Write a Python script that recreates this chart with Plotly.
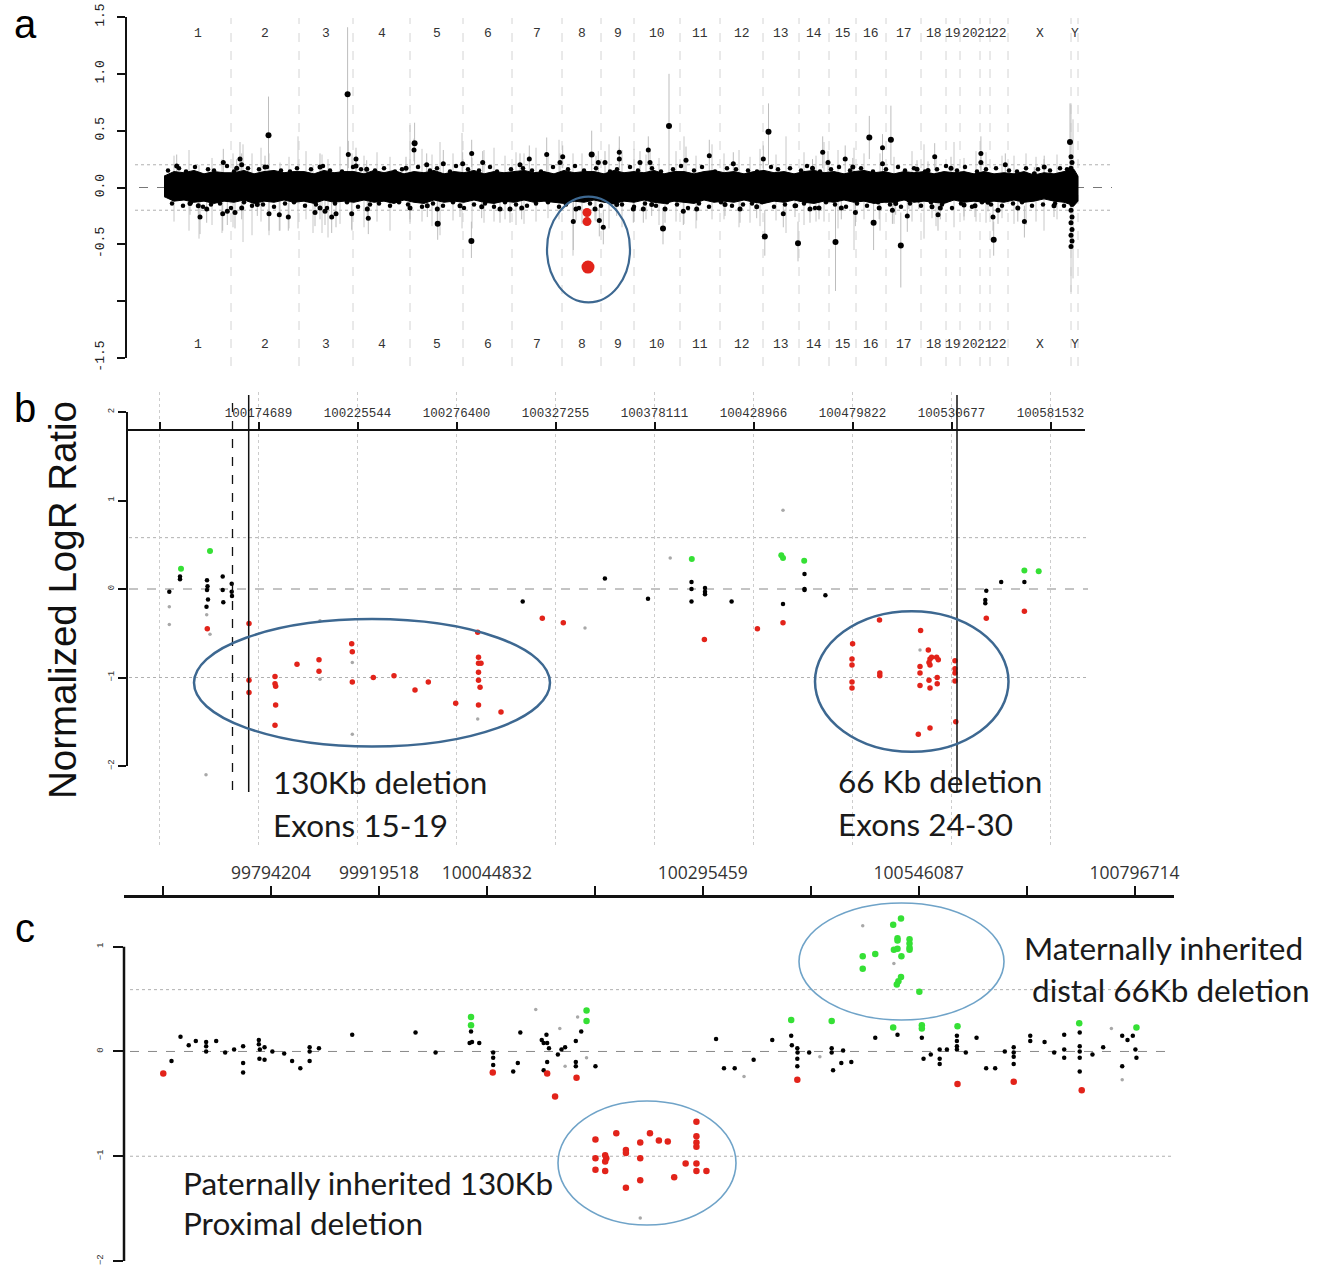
import plotly.graph_objects as go

W, H = 1328, 1270
def fx(p): return p / W
def fy(p): return 1 - p / H

MONO = "Liberation Mono"
SANS = "Liberation Sans"
TXT = "Lato"
RED = "#e2231a"
GREEN = "#35e035"
GRAY = "#a8a8a8"

# ================= Panel a : genome-wide =================
chrom_names = ['1','2','3','4','5','6','7','8','9','10','11','12','13','14','15','16',
               '17','18','19','20','21','22','X','Y']
chrom_sizes = [67, 68, 54, 57, 53, 49, 50, 39, 33, 46, 40, 43, 36, 30, 27, 30, 35, 25,
               14, 20, 10, 18, 63, 7]

band_pos = list(range(0, 911, 10)) + [914]
band_hi = [0.10, 0.14, 0.13, 0.15, 0.12, 0.14, 0.13,
           0.13, 0.15, 0.12, 0.14, 0.15, 0.13, 0.14,
           0.14, 0.12, 0.15, 0.13, 0.14,
           0.14, 0.12, 0.15, 0.13, 0.15, 0.12,
           0.14, 0.13, 0.15, 0.12, 0.14,
           0.13, 0.15, 0.12, 0.14, 0.13,
           0.14, 0.15, 0.13, 0.14, 0.12,
           0.15, 0.13, 0.14, 0.14,
           0.12, 0.15, 0.13,
           0.14, 0.13, 0.15, 0.12, 0.14,
           0.14, 0.12, 0.14, 0.15,
           0.13, 0.14, 0.12, 0.14,
           0.15, 0.13, 0.14, 0.12,
           0.14, 0.15, 0.13,
           0.14, 0.12, 0.14,
           0.15, 0.13, 0.14,
           0.12, 0.14, 0.13,
           0.14, 0.12, 0.14,
           0.13, 0.14, 0.12,
           0.14, 0.12, 0.13,
           0.12, 0.14, 0.11, 0.13, 0.12, 0.14,
           0.16, 0.10]
band_lo = [-0.08, -0.12, -0.11, -0.13, -0.12, -0.14, -0.12,
           -0.13, -0.11, -0.14, -0.12, -0.13, -0.11, -0.13,
           -0.12, -0.14, -0.11, -0.13, -0.12,
           -0.13, -0.11, -0.13, -0.12, -0.14, -0.11,
           -0.13, -0.14, -0.11, -0.13, -0.12,
           -0.13, -0.11, -0.13, -0.14, -0.12,
           -0.13, -0.11, -0.13, -0.12, -0.13,
           -0.14, -0.12, -0.13, -0.11,
           -0.13, -0.14, -0.12,
           -0.13, -0.11, -0.13, -0.14, -0.12,
           -0.13, -0.14, -0.11, -0.13,
           -0.12, -0.13, -0.11, -0.13,
           -0.14, -0.12, -0.13, -0.11,
           -0.13, -0.14, -0.12,
           -0.13, -0.11, -0.13,
           -0.12, -0.14, -0.13,
           -0.13, -0.11, -0.13,
           -0.12, -0.13, -0.14,
           -0.11, -0.13, -0.12,
           -0.13, -0.12, -0.13,
           -0.11, -0.13, -0.12, -0.10, -0.12, -0.13,
           -0.16, -0.12]

# ragged edge of the dense probe band
fr_top_pos = [4, 15, 22, 31, 44, 50, 63, 70, 84, 95, 103, 117, 126, 133, 147, 159, 166, 178,
              189, 197, 211, 220, 231, 238, 254, 266, 273, 286, 292, 304, 315, 326, 333, 347,
              359, 368, 377, 389, 404, 411, 420, 432, 446, 453, 466, 474, 488, 497, 509, 517,
              530, 538, 551, 563, 572, 584, 593, 607, 614, 626, 637, 643, 656, 667, 675, 686,
              697, 709, 722, 734, 741, 750, 761, 773, 782, 793, 801, 813, 822, 832, 845, 853,
              862, 874, 886, 896, 903]
fr_top_val = [0.15, 0.17, 0.14, 0.18, 0.16, 0.15, 0.19, 0.14, 0.17, 0.16,
              0.18, 0.15, 0.14, 0.17, 0.16, 0.19, 0.15, 0.14, 0.18, 0.16,
              0.15, 0.17, 0.14, 0.16, 0.18, 0.15, 0.17, 0.14, 0.19, 0.16,
              0.15, 0.18, 0.14, 0.16, 0.17, 0.15, 0.14, 0.18, 0.16, 0.19,
              0.15, 0.17, 0.14, 0.16, 0.18, 0.15, 0.17, 0.14, 0.16, 0.19,
              0.15, 0.18, 0.14, 0.17, 0.16, 0.15, 0.14, 0.18, 0.16, 0.17,
              0.15, 0.19, 0.14, 0.16, 0.18, 0.15, 0.17, 0.14, 0.16, 0.18,
              0.15, 0.17, 0.14, 0.16, 0.19, 0.15, 0.18, 0.14, 0.16, 0.17,
              0.15, 0.14, 0.17, 0.16, 0.15, 0.17, 0.16]
fr_bot_pos = [8, 19, 27, 39, 47, 56, 67, 80, 88, 99, 110, 121, 130, 141, 152, 163, 171, 183,
              194, 206, 215, 226, 235, 244, 258, 269, 279, 289, 300, 310, 321, 330, 341, 352,
              363, 372, 384, 395, 402, 415, 426, 437, 449, 458, 470, 481, 492, 503, 513, 524,
              535, 545, 557, 568, 579, 588, 598, 610, 621, 632, 640, 651, 662, 671, 682, 693,
              703, 714, 726, 737, 746, 757, 767, 778, 788, 797, 808, 818, 827, 838, 849, 858,
              868, 879, 891, 900]
fr_bot_val = [-0.14, -0.16, -0.13, -0.17, -0.15, -0.14, -0.18, -0.13, -0.16, -0.15,
              -0.17, -0.14, -0.13, -0.16, -0.15, -0.18, -0.14, -0.13, -0.17, -0.15,
              -0.14, -0.16, -0.13, -0.15, -0.17, -0.14, -0.16, -0.13, -0.18, -0.15,
              -0.14, -0.17, -0.13, -0.15, -0.16, -0.14, -0.13, -0.17, -0.15, -0.18,
              -0.14, -0.16, -0.13, -0.15, -0.17, -0.14, -0.16, -0.13, -0.15, -0.18,
              -0.14, -0.17, -0.13, -0.16, -0.15, -0.14, -0.13, -0.17, -0.15, -0.16,
              -0.14, -0.18, -0.13, -0.15, -0.17, -0.14, -0.16, -0.13, -0.15, -0.17,
              -0.14, -0.16, -0.13, -0.15, -0.18, -0.14, -0.17, -0.13, -0.15, -0.16,
              -0.14, -0.13, -0.16, -0.15, -0.14, -0.16]

a_spk_pos = [12.7, 59.3, 76, 77.7, 72.7, 101, 156, 184.3, 192, 192, 202.7, 242, 250, 262.7,
             279.3, 298.7, 307.7, 318.7, 356, 365.3, 382.7, 398.7, 396, 434.3, 441, 455.3,
             455.3, 476, 484.3, 486, 522, 545.3, 569.3, 599.3, 658.7, 648.5, 664, 681.2,
             688.8, 718.5, 718.5, 753, 764, 770.7, 787, 816.9, 816.9, 841.3, 870.3, 880.2,
             26, 34.3, 36, 42.7, 58.7, 63.3, 71, 77.7, 93.3, 105, 115.3, 124.3, 151, 156,
             161, 167.7, 172, 187.7, 203.3, 204.3, 246, 263.3, 273.3, 296, 317.7, 336, 346,
             357.7, 409.3, 412, 435.3, 439.3, 431, 452.7, 469.3, 479.3, 487.7, 501, 519.3,
             532.7, 561, 576, 592.7, 619.3, 631, 646, 655, 677.3, 691.4, 715.2, 731.7,
             728.4, 743.3, 744.9, 754.8, 768, 774, 776.3, 800, 811, 824, 829, 834, 853.8,
             860.4, 890,
             907, 908, 907, 908, 907, 908, 907, 908, 907, 908, 907]
a_spk_val = [0.19, 0.22, 0.25, 0.20, 0.17, 0.18, 0.18, 0.29, 0.25, 0.19, 0.16, 0.17, 0.33, 0.20,
             0.21, 0.21, 0.30, 0.22, 0.20, 0.25, 0.29, 0.27, 0.22, 0.22, 0.22, 0.31,
             0.25, 0.22, 0.33, 0.22, 0.24, 0.28, 0.21, 0.25, 0.31, 0.17, 0.22, 0.25,
             0.18, 0.35, 0.21, 0.16, 0.15, 0.27, 0.17, 0.30, 0.22, 0.20, 0.12, 0.18,
             -0.14, -0.16, -0.26, -0.19, -0.23, -0.21, -0.22, -0.18, -0.15, -0.23, -0.24, -0.26,
             -0.22, -0.18, -0.21, -0.26, -0.23, -0.23, -0.19, -0.27, -0.18, -0.16, -0.19, -0.16,
             -0.17, -0.19, -0.19, -0.18, -0.30, -0.19, -0.29, -0.35, -0.19, -0.15, -0.19, -0.19,
             -0.15, -0.19, -0.21, -0.19, -0.15, -0.19, -0.17, -0.23, -0.16, -0.19, -0.18,
             -0.18, -0.22, -0.18, -0.14, -0.20, -0.25, -0.11, -0.11, -0.17, -0.24, -0.18,
             -0.155, -0.16, -0.13, -0.26, -0.20, -0.18, -0.30, -0.16,
             0.27, 0.22, 0.17, -0.15, -0.20, -0.26, -0.31, -0.37, -0.42, -0.47, -0.52]
a_spk_err = [0.10, 0.12, 0.15, 0.10, 0.08, 0.10, 0.12, 0.12, 0.10, 0.08, 0.08, 0.10, 0.10, 0.10,
             0.12, 0.10, 0.12, 0.10, 0.10, 0.12, 0.15, 0.10, 0.08, 0.10, 0.10, 0.14,
             0.10, 0.10, 0.12, 0.10, 0.12, 0.14, 0.10, 0.12, 0.14, 0.08, 0.10, 0.12,
             0.08, 0.12, 0.10, 0.08, 0.08, 0.12, 0.10, 0.15, 0.10, 0.10, 0.06, 0.10,
             0.10, 0.12, 0.15, 0.12, 0.15, 0.12, 0.14, 0.10, 0.10, 0.15, 0.14, 0.12,
             0.12, 0.10, 0.12, 0.14, 0.12, 0.14, 0.10, 0.14, 0.10, 0.10, 0.10, 0.10,
             0.10, 0.12, 0.12, 0.10, 0.25, 0.10, 0.14, 0.15, 0.10, 0.10, 0.12, 0.12,
             0.10, 0.12, 0.12, 0.10, 0.10, 0.12, 0.10, 0.12, 0.10, 0.12, 0.10,
             0.10, 0.12, 0.10, 0.10, 0.12, 0.14, 0.08, 0.08, 0.10, 0.14, 0.10,
             0.10, 0.10, 0.08, 0.12, 0.12, 0.12, 0.14, 0.10,
             0, 0, 0, 0, 0, 0, 0, 0, 0, 0, 0]

a_out_pos = [104.5, 183.6, 250.6, 273.7, 307.4, 505, 499, 604.5, 600.8, 634, 671.5, 705.3,
             726.9, 736.8, 709.6, 829.7, 906, 427.7]
a_out_val = [0.46, 0.82, 0.39, -0.32, -0.47, 0.54, -0.36, 0.49, -0.43, -0.49, -0.48, 0.44,
             0.42, -0.51, -0.31, -0.46, 0.40, 0.29]
a_out_lo = [0.19, 0.10, 0.20, -0.46, -0.62, 0.05, -0.50, 0.20, -0.60, -0.65, -0.91, 0.25,
            0.20, -0.88, -0.55, -0.60, 0.10, 0.05]
a_out_hi = [0.80, 1.41, 0.57, -0.02, -0.30, 1.00, -0.20, 0.74, -0.20, -0.30, -0.10, 0.63,
            0.72, -0.22, -0.10, -0.30, 0.74, 0.50]

a_haze_pos = [35, 58, 69, 79, 105, 116, 134, 149, 164, 188, 246, 276, 298, 330, 360, 395, 409,
              445, 470, 520, 548, 575, 622, 660, 690, 716, 760, 790, 812, 850, 880, 907, 909,
              10, 25, 48, 88, 97, 125, 142, 158, 176, 200, 213, 226, 258, 268, 289, 308, 320,
              341, 352, 372, 384, 418, 432, 458, 482, 495, 512, 532, 560, 586, 596, 612, 640,
              652, 674, 700, 730, 748, 772, 800, 822, 838, 862, 872, 893]
a_haze_lo = [-0.45, -0.40, -0.35, -0.48, -0.42, -0.38, -0.36, -0.40, -0.44, -0.38, -0.32, -0.42,
             -0.36, -0.30, -0.32, -0.28, -0.60, -0.36, -0.30, -0.32, -0.28, -0.35, -0.40,
             -0.30, -0.55, -0.38, -0.45, -0.35, -0.30, -0.32, -0.38, -0.92, -0.80,
             -0.30, -0.38, -0.33, -0.42, -0.30, -0.36, -0.28, -0.40, -0.32, -0.35,
             -0.30, -0.38, -0.30, -0.34, -0.29, -0.36, -0.31, -0.28, -0.33, -0.30,
             -0.27, -0.32, -0.30, -0.35, -0.28, -0.33, -0.30, -0.36, -0.28, -0.31,
             -0.34, -0.29, -0.33, -0.30, -0.36, -0.28, -0.32, -0.30, -0.34, -0.29,
             -0.31, -0.27, -0.33, -0.30, -0.28]
a_haze_hi = [0.20, 0.25, 0.30, 0.38, 0.30, 0.22, 0.45, 0.20, 0.25, 0.30, 0.55, 0.40, 0.48,
             0.35, 0.30, 0.42, 0.30, 0.38, 0.34, 0.45, 0.38, 0.33, 0.45, 0.40, 0.35, 0.30,
             0.38, 0.40, 0.32, 0.28, 0.25, 0.74, 0.60,
             0.28, 0.33, 0.26, 0.30, 0.35, 0.27, 0.32, 0.29, 0.36, 0.28,
             0.31, 0.27, 0.34, 0.29, 0.30, 0.26, 0.33, 0.28, 0.31, 0.35,
             0.27, 0.30, 0.28, 0.33, 0.29, 0.26, 0.32, 0.28, 0.30, 0.27,
             0.34, 0.29, 0.31, 0.28, 0.33, 0.30, 0.27, 0.32, 0.29, 0.26,
             0.31, 0.28, 0.30, 0.27, 0.29]

a_red_pos = [423, 423, 424]
a_red_val = [-0.22, -0.30, -0.70]
a_red_size = [9, 9, 13]
a_yticks = [-1.5, -1.0, -0.5, 0.0, 0.5, 1.0, 1.5]
a_yticktext = ['-1.5', '', '-0.5', '0.0', '0.5', '1.0', '1.5']

# ================= Panel b : zoom, chr8 region =================
b_ticks = [100123834, 100174689, 100225544, 100276400, 100327255, 100378111, 100428966,
           100479822, 100530677, 100581532]
b_ticktext = [''] + [str(v) for v in b_ticks[1:]]
b_range = [100107139, 100599254]
b_breaks_dashed = [100161333]
b_breaks_solid = [100169655, 100533501]

b_black_pos = [100128868, 100134364, 100134364, 100148234, 100148500, 100148234, 100148748,
               100147977, 100156299, 100156299, 100156607, 100160922, 100160922, 100161075,
               100310406, 100352631, 100374771, 100397117, 100397117, 100397117, 100404052,
               100404052, 100404052, 100417716, 100444119, 100455164, 100455164, 100455164,
               100465900, 100548548, 100548035, 100548035, 100556202, 100568120]
b_black_val = [-0.03, 0.14, 0.11, 0.10, 0.03, -0.01, -0.12,
               -0.20, 0.14, -0.01, -0.15, 0.06, -0.03, -0.08,
               -0.14, 0.12, -0.11, 0.08, 0.00, -0.14, 0.01,
               -0.03, -0.06, -0.14, -0.17, 0.17, 0.00, -0.01,
               -0.07, -0.02, -0.125, -0.16, 0.08, 0.08]
b_green_pos = [100134878, 100149775, 100397271, 100443246, 100444119, 100455010, 100568120,
               100575470]
b_green_val = [0.23, 0.43, 0.34, 0.38, 0.35, 0.32, 0.21, 0.20]
b_gray_pos = [100128868, 100128868, 100148080, 100149775, 100147720, 100206281, 100206281,
              100222873, 100222873, 100287290, 100342409, 100386175, 100444119, 100514495]
b_gray_val = [-0.20, -0.40, -0.29, -0.51, -2.10, -0.36, -1.02, -0.83, -1.64, -1.47, -0.44,
              0.35, 0.89, -0.69]
b_red_pos = [100148388, 100169809, 100169809, 100169809, 100183165, 100183165, 100183500,
             100183500, 100183165, 100194466, 100205767, 100205767, 100222565, 100222873,
             100222873, 100233661, 100244294, 100255081, 100261914, 100275989, 100287290,
             100287701, 100287701, 100288985, 100287701, 100287701, 100288500, 100287701,
             100299259, 100320474, 100331262, 100403744, 100430969, 100444119,
             100479872, 100479564, 100479564, 100479564, 100479564, 100493690, 100493844,
             100493844, 100514803, 100518759, 100514495, 100514495, 100514495, 100519119,
             100519632, 100520454, 100523022, 100523895, 100519632, 100519119, 100519632,
             100523333, 100523333, 100532474, 100532474, 100532474, 100532474, 100532885,
             100513621, 100519632, 100548548, 100568120]
b_red_val = [-0.45, -0.39, -1.03, -1.17, -0.99, -1.07, -1.10,
             -1.31, -1.54, -0.85, -0.80, -0.93, -0.62, -0.71,
             -1.05, -1.00, -0.98, -1.14, -1.05, -1.29, -0.49,
             -0.77, -0.84, -0.84, -0.94, -1.03, -1.11, -1.31,
             -1.39, -0.33, -0.38, -0.57, -0.45, -0.38,
             -0.62, -0.79, -0.86, -1.05, -1.12, -0.35, -0.95,
             -0.98, -0.47, -0.69, -0.875, -0.95, -1.09, -0.83,
             -0.79, -0.77, -0.77, -0.80, -0.86, -1.03, -1.12,
             -1.00, -1.07, -0.81, -0.90, -0.95, -1.04, -1.50,
             -1.64, -1.57, -0.33, -0.25]
b_ellipses = [(100141556, 100324430, -1.78, -0.34), (100460558, 100559957, -1.84, -0.25)]
b_yticks = [-2, -1, 0, 1, 2]

# ================= Panel c : family =================
c_ticks = [99668890, 99794204, 99919518, 100044832, 100170145, 100295459, 100420773,
           100546087, 100671400, 100796714]
c_ticktext = ['', '99794204', '99919518', '100044832', '', '100295459', '',
              '100546087', '', '100796714']
c_range = [99623592, 100842536]
c_yticks = [-2, -1, 0, 1]

c_black_pos = [99678718, 99689185, 99698722, 99706979, 99718958, 99718958, 99718958, 99730588,
               99741055, 99751406, 99761873, 99761873, 99761873, 99780132, 99780132, 99781300,
               99780800, 99786761, 99786761, 99795832, 99809556, 99818743, 99828280, 99839096,
               99839096, 99839096, 99849912, 99888523, 99962025, 99985285, 100026455,
               100024827, 100027618, 100035992, 100052157, 100052157, 100052157, 100075417,
               100083675, 100080767, 100108563, 100110773, 100114029, 100114843, 100116937,
               100114843, 100110773, 100127287, 100131474, 100135661, 100148105, 100148105,
               100148105, 100154385, 100170900,
               100310925, 100320113, 100332557, 100354537, 100376169, 100398150, 100398900,
               100405244, 100405500, 100405244, 100405244, 100418968, 100445135, 100445135,
               100458393, 100456300, 100467930, 100446763, 100495726, 100521544, 100549805,
               100551782, 100560156, 100570507, 100570507, 100570507, 100578880, 100590510,
               100590510, 100590510, 100590510, 100600861, 100613305, 100624470, 100634937,
               100646102, 100656452, 100656452, 100656452, 100656452, 100675642, 100675642,
               100692273, 100703437, 100715067, 100715067, 100715067, 100733094, 100733094,
               100733094, 100733094, 100733094, 100747864, 100760308, 100782405, 100782405,
               100788569, 100794733, 100797757, 100798920]
c_black_val = [-0.09, 0.14, 0.06, 0.10, 0.09, 0.05, 0.00, 0.10,
               -0.01, 0.02, 0.05, -0.11, -0.20, 0.11, 0.07, 0.02,
               -0.07, 0.04, -0.08, 0.00, -0.02, -0.09, -0.16, 0.04,
               0.00, -0.09, 0.03, 0.16, 0.18, -0.01, 0.19,
               0.08, 0.09, 0.08, -0.01, -0.06, -0.13, -0.19,
               0.18, -0.11, 0.11, 0.08, 0.16, 0.08, 0.03,
               -0.10, -0.18, -0.03, 0.02, 0.04, 0.10, -0.10,
               -0.14, 0.19, -0.14,
               0.12, -0.16, -0.16, -0.08, 0.11, 0.15, 0.06,
               0.03, -0.01, -0.07, -0.14, -0.01, 0.03, -0.01,
               0.01, -0.11, -0.10, -0.18, 0.13, 0.16, 0.13,
               -0.07, -0.03, 0.02, -0.07, -0.12, 0.02, 0.15,
               0.10, 0.05, 0.02, -0.01, 0.13, -0.16, -0.16,
               0.00, 0.04, -0.01, -0.05, -0.12, 0.15, 0.10,
               0.09, -0.01, 0.16, 0.02, -0.06, 0.18, 0.05,
               0.00, -0.06, -0.19, -0.03, 0.04, 0.15, -0.14,
               0.11, 0.15, 0.02, -0.06]
c_green_pos = [100026455, 100026455, 100160549, 100160549, 100398150, 100445135, 100516543,
               100549805, 100549805, 100591208, 100732512, 100798920,
               100525615, 100516543, 100521544, 100521544, 100535500, 100535500, 100535500,
               100535500, 100517357, 100521544, 100526080, 100495726, 100481188, 100481188,
               100525615, 100522591, 100520730, 100546898]
c_green_val = [0.33, 0.25, 0.39, 0.29, 0.30, 0.29, 0.23,
               0.25, 0.22, 0.24, 0.27, 0.23,
               1.27, 1.21, 1.08, 1.06, 1.07, 1.03, 0.99,
               0.97, 0.97, 0.98, 0.91, 0.93, 0.91, 0.79,
               0.71, 0.67, 0.64, 0.57]
c_gray_pos = [100481188, 100517357, 100101585, 100129497, 100150198, 100135661, 100160549,
              100222886, 100343373, 100431412, 100769845, 100782405]
c_gray_val = [1.20, 0.84, 0.40, 0.22, 0.33, -0.14, -0.06, -1.59, -0.24, -0.05, 0.22, -0.27]
c_red_pos = [99669181, 100051692, 100114843, 100124031, 100148919, 100405244, 100591208,
             100656452, 100735420,
             100170900, 100170900, 100170900, 100182181, 100183460, 100182181, 100182181,
             100195090, 100206255, 100206255, 100206255, 100222886, 100222886, 100222886,
             100234167, 100244518, 100254868, 100275570, 100262312, 100288130, 100288130,
             100288130, 100288130, 100288130, 100288130, 100299760]
c_red_val = [-0.21, -0.20, -0.21, -0.43, -0.25, -0.27, -0.31,
             -0.29, -0.37,
             -0.84, -1.02, -1.13, -0.99, -1.02, -1.05, -1.14,
             -0.78, -0.94, -0.97, -1.30, -0.87, -1.02, -1.23,
             -0.78, -0.85, -0.86, -1.07, -1.20, -0.67, -0.81,
             -0.87, -0.91, -1.07, -1.14, -1.14]

for a, b in [(band_pos, band_hi), (band_pos, band_lo), (fr_top_pos, fr_top_val),
             (fr_bot_pos, fr_bot_val), (a_spk_pos, a_spk_val), (a_spk_pos, a_spk_err),
             (a_haze_pos, a_haze_lo), (a_haze_pos, a_haze_hi), (b_black_pos, b_black_val),
             (b_red_pos, b_red_val), (c_black_pos, c_black_val), (c_red_pos, c_red_val),
             (c_green_pos, c_green_val), (b_gray_pos, b_gray_val)]:
    assert len(a) == len(b), (len(a), len(b))

# ================= build figure =================
fig = go.Figure()

def pts(x, y, color, size, xa, ya):
    fig.add_trace(go.Scatter(x=x, y=y, mode='markers', xaxis=xa, yaxis=ya,
                             marker=dict(color=color, size=size, opacity=1, line=dict(width=0)),
                             cliponaxis=False, hoverinfo='skip', showlegend=False))

# --- panel a
hx, hy = [], []
for p, lo, hi in zip(a_haze_pos, a_haze_lo, a_haze_hi):
    hx += [p, p, None]
    hy += [lo, hi, None]
fig.add_trace(go.Scatter(x=hx, y=hy, mode='lines', line=dict(color='#c8c8c8', width=1),
                         xaxis='x', yaxis='y', hoverinfo='skip', showlegend=False))
fig.add_trace(go.Scatter(x=a_spk_pos, y=a_spk_val, mode='markers', xaxis='x', yaxis='y',
                         marker=dict(size=1, color='rgba(0,0,0,0)'),
                         error_y=dict(type='data', array=a_spk_err, color='#bdbdbd',
                                      thickness=1, width=0),
                         hoverinfo='skip', showlegend=False))
fig.add_trace(go.Scatter(x=a_out_pos, y=a_out_val, mode='markers', xaxis='x', yaxis='y',
                         marker=dict(size=1, color='rgba(0,0,0,0)'),
                         error_y=dict(type='data', symmetric=False,
                                      array=[h - v for h, v in zip(a_out_hi, a_out_val)],
                                      arrayminus=[v - l for l, v in zip(a_out_lo, a_out_val)],
                                      color='#bdbdbd', thickness=1, width=0),
                         hoverinfo='skip', showlegend=False))
fig.add_trace(go.Scatter(x=band_pos + band_pos[::-1], y=band_hi + band_lo[::-1],
                         mode='lines', fill='toself', fillcolor='#000000',
                         line=dict(color='#000000', width=1), xaxis='x', yaxis='y',
                         hoverinfo='skip', showlegend=False))
pts(fr_top_pos, fr_top_val, '#000000', 4.5, 'x', 'y')
pts(fr_bot_pos, fr_bot_val, '#000000', 4.5, 'x', 'y')
pts(a_spk_pos, a_spk_val, '#000000', 5, 'x', 'y')
pts(a_out_pos, a_out_val, '#000000', 6, 'x', 'y')
pts(a_red_pos, a_red_val, RED, a_red_size, 'x', 'y')

# --- panel b
pts(b_gray_pos, b_gray_val, GRAY, 3.5, 'x2', 'y2')
pts(b_black_pos, b_black_val, '#000000', 4.5, 'x2', 'y2')
pts(b_green_pos, b_green_val, GREEN, 6, 'x2', 'y2')
pts(b_red_pos, b_red_val, RED, 5.5, 'x2', 'y2')

# --- panel c
pts(c_gray_pos, c_gray_val, GRAY, 3.5, 'x3', 'y3')
pts(c_black_pos, c_black_val, '#000000', 4.5, 'x3', 'y3')
pts(c_green_pos, c_green_val, GREEN, 6.5, 'x3', 'y3')
pts(c_red_pos, c_red_val, RED, 6.5, 'x3', 'y3')

shapes = []
# panel a reference lines
shapes.append(dict(type='line', xref='paper', yref='y', x0=fx(139), x1=fx(1112), y0=0, y1=0,
                   line=dict(color='#777777', width=1, dash='dash'), layer='below'))
for yv in (0.2, -0.2):
    shapes.append(dict(type='line', xref='paper', yref='y', x0=fx(135), x1=fx(1112), y0=yv,
                       y1=yv, line=dict(color='#b0b0b0', width=1, dash='dot'), layer='below'))
bounds = [0]
for s in chrom_sizes:
    bounds.append(bounds[-1] + s)
for b in bounds[1:]:
    shapes.append(dict(type='line', xref='x', yref='paper', x0=b, x1=b, y0=fy(366), y1=fy(18),
                       line=dict(color='#d4d4d4', width=1, dash='dash'), layer='below'))
shapes.append(dict(type='circle', xref='x', yref='y', x0=383, x1=466, y0=-1.01, y1=-0.08,
                   line=dict(color='#3d6891', width=2.2)))

# panel b: y axis line (-2..2) and reference lines
shapes.append(dict(type='line', xref='paper', yref='y2', x0=fx(127), x1=fx(127),
                   y0=b_yticks[0], y1=b_yticks[-1], line=dict(color='#111111', width=2)))
shapes.append(dict(type='line', xref='paper', yref='y2', x0=fx(129), x1=fx(1088), y0=0, y1=0,
                   line=dict(color='#888888', width=1, dash='dash'), layer='below'))
for yv in (0.58, -1.0):
    shapes.append(dict(type='line', xref='paper', yref='y2', x0=fx(129), x1=fx(1088), y0=yv,
                       y1=yv, line=dict(color='#b0b0b0', width=1, dash='dot'), layer='below'))
for t in b_ticks:
    shapes.append(dict(type='line', xref='x2', yref='paper', x0=t, x1=t, y0=fy(845), y1=fy(392),
                       line=dict(color='#cccccc', width=1, dash='dot'), layer='below'))
for t in b_breaks_dashed:
    shapes.append(dict(type='line', xref='x2', yref='paper', x0=t, x1=t, y0=fy(790), y1=fy(395),
                       line=dict(color='#111111', width=1.3, dash='dash')))
for t in b_breaks_solid:
    shapes.append(dict(type='line', xref='x2', yref='paper', x0=t, x1=t, y0=fy(792), y1=fy(395),
                       line=dict(color='#111111', width=1.5)))
for x0, x1, y0, y1 in b_ellipses:
    shapes.append(dict(type='circle', xref='x2', yref='y2', x0=x0, x1=x1, y0=y0, y1=y1,
                       line=dict(color='#3d6891', width=2.5)))

# panel c: y axis line (-2..1) and reference lines
shapes.append(dict(type='line', xref='paper', yref='y3', x0=fx(124), x1=fx(124),
                   y0=c_yticks[0], y1=c_yticks[-1], line=dict(color='#111111', width=2.5)))
shapes.append(dict(type='line', xref='paper', yref='y3', x0=fx(130), x1=fx(1172), y0=0, y1=0,
                   line=dict(color='#888888', width=1, dash='dash'), layer='below'))
for yv in (0.59, -1.0):
    shapes.append(dict(type='line', xref='paper', yref='y3', x0=fx(130), x1=fx(1172), y0=yv,
                       y1=yv, line=dict(color='#b0b0b0', width=1, dash='dot'), layer='below'))
# hand-drawn ellipses of panel c (paper coordinates)
for (l, r, t, btm) in [(558, 736, 1101, 1225), (799, 1004, 903, 1020)]:
    shapes.append(dict(type='circle', xref='paper', yref='paper', x0=fx(l), x1=fx(r),
                       y0=fy(btm), y1=fy(t), line=dict(color='#6fa3c8', width=1.6)))

ann = []
def txt(x, y, s, size, font=TXT, xanchor='left', angle=0, color='#1a1a1a'):
    ann.append(dict(x=fx(x), y=fy(y), xref='paper', yref='paper', text=s, showarrow=False,
                    xanchor=xanchor, yanchor='middle', textangle=angle,
                    font=dict(family=font, size=size, color=color)))

txt(25, 24, 'a', 40, SANS, 'center', color='#000')
txt(25, 408, 'b', 40, SANS, 'center', color='#000')
txt(25, 928, 'c', 40, SANS, 'center', color='#000')
txt(62, 600, 'Normalized LogR Ratio', 38.5, SANS, 'center', angle=-90, color='#111')
TS = 31.5
txt(271, 782, '130Kb deletion', TS)
txt(271, 825, 'Exons 15-19', TS)
txt(836, 781, '66 Kb deletion', TS)
txt(836, 824, 'Exons 24-30', TS)
txt(1022, 948, 'Maternally inherited', TS)
txt(1030, 990, 'distal 66Kb deletion', TS)
txt(181, 1183, 'Paternally inherited 130Kb', TS)
txt(181, 1223, 'Proximal deletion', TS)

for name, b0, b1 in zip(chrom_names, bounds[:-1], bounds[1:]):
    for yy in (33, 345):
        ann.append(dict(x=(b0 + b1) / 2, y=fy(yy), xref='x', yref='paper', text=name,
                        showarrow=False, xanchor='center', yanchor='middle',
                        font=dict(family=MONO, size=13, color='#333333')))

# pixel scales of panels b and c (y units -> px) used to extend ranges for outlying probes
B_PX = (766 - 412) / 4.0
C_PX = (1261 - 946.7) / 3.0
b_ylo, c_yhi = -2.2, 1.45

axis_common = dict(showgrid=False, zeroline=False, automargin=False)
fig.update_layout(
    width=W, height=H, margin=dict(l=0, r=0, t=0, b=0),
    paper_bgcolor='white', plot_bgcolor='rgba(0,0,0,0)', template='none',
    showlegend=False, shapes=shapes, annotations=ann,
    xaxis=dict(domain=[fx(127), fx(1112)], range=[-37, 948], visible=False, anchor='y',
               **axis_common),
    yaxis=dict(domain=[fy(358), fy(17)], range=[-1.5, 1.5], anchor='x', showline=True,
               linecolor='#111111', linewidth=2, ticks='outside', ticklen=8, tickwidth=1.5,
               tickcolor='#111111', tickvals=a_yticks, ticktext=a_yticktext, tickangle=-90,
               ticklabelstandoff=8,
               tickfont=dict(family=MONO, size=13, color='#222222'), **axis_common),
    xaxis2=dict(domain=[fx(127), fx(1085)], range=b_range, anchor='free', position=fy(430),
                side='top', showline=True, linecolor='#111111', linewidth=2, ticks='outside',
                ticklen=7, tickwidth=1.5, tickcolor='#111111', tickvals=b_ticks,
                ticktext=b_ticktext, tickfont=dict(family=MONO, size=12.5, color='#333333'),
                **axis_common),
    yaxis2=dict(domain=[fy(766 + (-2 - b_ylo) * B_PX), fy(412)], range=[b_ylo, 2],
                anchor='x2', showline=False, ticks='outside', ticklen=8, tickwidth=1.5,
                tickcolor='#111111', tickvals=b_yticks, tickangle=-90,
                tickfont=dict(family=MONO, size=9, color='#333333'), **axis_common),
    xaxis3=dict(domain=[fx(124), fx(1174)], range=c_range, anchor='free', position=fy(896),
                side='top', showline=True, linecolor='#111111', linewidth=2.5, ticks='outside',
                ticklen=9, tickwidth=2, tickcolor='#111111', tickvals=c_ticks,
                ticktext=c_ticktext, tickfont=dict(family='Open Sans', size=17.5, color='#333333'),
                **axis_common),
    yaxis3=dict(domain=[fy(1261), fy(946.7 - (c_yhi - 1) * C_PX)], range=[-2, c_yhi],
                anchor='x3', showline=False, ticks='outside', ticklen=10, tickwidth=2,
                tickcolor='#111111', tickvals=c_yticks, tickangle=-90,
                ticklabelstandoff=6,
                tickfont=dict(family=MONO, size=9, color='#333333'), **axis_common),
)

fig.write_html("out.html", config={'displayModeBar': False},
               post_script="document.body.style.margin='0';document.body.style.overflow='hidden';")
